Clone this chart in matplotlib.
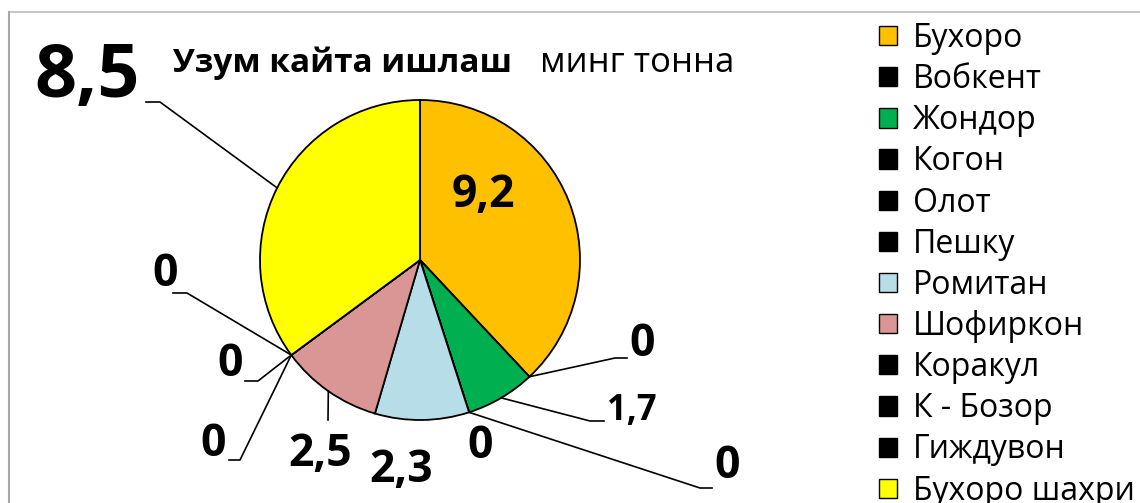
#%% -- imports --
import numpy as np
import matplotlib.pyplot as plt
from matplotlib.patches import Patch

plt.rcParams['font.family'] = ['Open Sans', 'DejaVu Sans']

#%% -- data --
regions = ['Бухоро', 'Вобкент', 'Жондор', 'Когон', 'Олот', 'Пешку', 'Ромитан',
           'Шофиркон', 'Коракул', 'К - Бозор', 'Гиждувон', 'Бухоро шахри']
values = [9.2, 0, 1.7, 0, 0, 0, 2.3, 2.5, 0, 0, 0, 8.5]
colors = ['#FFC000', 'black', '#00B050', 'black', 'black', 'black', '#B7DDE8',
          '#D99694', 'black', 'black', 'black', '#FFFF00']
title_bold = 'Узум кайта ишлаш'
title_unit = 'минг тонна'

# label layout in image pixels (x, y from top), leader path after the wedge anchor
label_pos = {
    0: dict(xy=(483, 195), fs=32, path=None),
    1: dict(xy=(642, 345), fs=32, path=[(615, 358), (627, 358)]),
    2: dict(xy=(632, 411), fs=25, path=[(590, 421), (604, 421)]),
    3: dict(xy=(480, 446), fs=32, path=None),
    4: dict(xy=(727, 466), fs=32, path=[(700, 488), (712, 488)]),
    6: dict(xy=(401, 470), fs=32, path=None),
    7: dict(xy=(320, 454), fs=32, path=[(328, 420)]),
    8: dict(xy=(165, 274), fs=32, path=[(187, 293), (173, 293)]),
    9: dict(xy=(230, 364), fs=32, path=[(258, 381), (245, 381)]),
    10: dict(xy=(213, 444), fs=32, path=[(240, 460), (229, 460)]),
    11: dict(xy=(87, 78), fs=53, path=[(160, 102), (146, 102)]),
}

#%% -- plot --
W, H = 1140, 503
fig = plt.figure(figsize=(W / 100, H / 100), dpi=100)
ax = fig.add_axes([0, 0, 1, 1])

cx, cy, r = 420, H - 260, 160
wedges, _ = ax.pie(values, colors=colors, startangle=90, counterclock=False,
                   center=(cx, cy), radius=r,
                   wedgeprops=dict(edgecolor='black', linewidth=1.3))
ax.set_xlim(0, W)
ax.set_ylim(0, H)
ax.set_aspect('equal')
ax.axis('off')

# chart area border
ax.plot([9, W], [H - 12, H - 12], color='#C8C8C8', lw=1.5, clip_on=False)
ax.plot([9, 9], [H - 12, 0], color='#A8A8A8', lw=1.5, clip_on=False)

for i, w in enumerate(wedges):
    if i not in label_pos:
        continue
    p = label_pos[i]
    txt = f'{values[i]:g}'.replace('.', ',')
    ang = np.deg2rad((w.theta1 + w.theta2) / 2)
    x0, y0 = cx + r * np.cos(ang), cy + r * np.sin(ang)
    if p['path'] is not None:
        xs = [x0] + [q[0] for q in p['path']]
        ys = [y0] + [H - q[1] for q in p['path']]
        ax.plot(xs, ys, color='black', lw=1.2)
    ax.text(p['xy'][0], H - p['xy'][1], txt, fontsize=p['fs'], fontweight='bold',
            ha='center', va='center')

ax.text(173, H - 72, title_bold, fontsize=24, fontweight='bold', ha='left', va='baseline')
ax.text(540, H - 72, title_unit, fontsize=25, ha='left', va='baseline')

handles = [Patch(facecolor=c, edgecolor='black', linewidth=1) for c in colors]
fig.legend(handles, regions, loc='upper left', bbox_to_anchor=(863 / W, 1 - 6 / H),
           frameon=False, fontsize=23, borderpad=0, labelspacing=0.255,
           handlelength=0.55, handleheight=0.55, handletextpad=0.5)

fig.savefig('out.png', dpi=100)
